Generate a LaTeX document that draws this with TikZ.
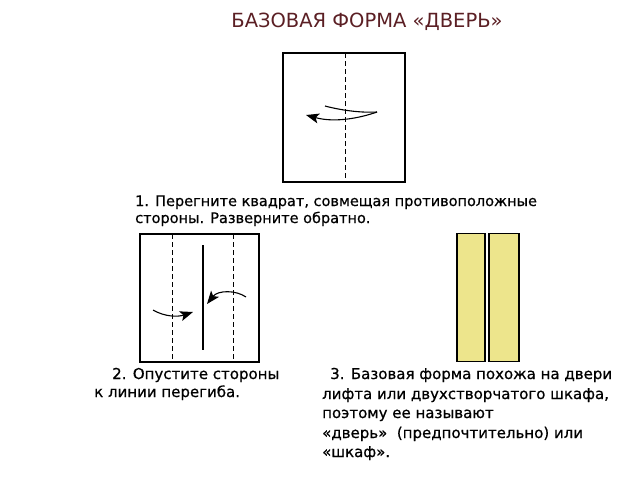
\documentclass[tikz,border=0pt]{standalone}
\usepackage{fontspec}
\setmainfont{DejaVu Sans}
\newfontfamily\bodyfont[FakeBold=0.6]{DejaVu Sans}
\usetikzlibrary{arrows.meta}
\definecolor{titlered}{HTML}{5B1F24}
\definecolor{dooryellow}{HTML}{EDE58C}
\begin{document}
\begin{tikzpicture}[x=1pt,y=-1pt,
  paper/.style={draw=black,line width=2.4pt,fill=white},
  fold/.style={draw=black,line width=1pt,dash pattern=on 5pt off 3pt},
  crease/.style={draw=black,line width=2.4pt},
  turn/.style={draw=black,line width=1.1pt},
  turntip/.style={-{Stealth[length=13pt,width=10pt,inset=3pt]}},
  body/.style={anchor=base west,inner sep=0pt,font=\bodyfont\fontsize{14.5}{16}\selectfont},
  bodyb/.style={anchor=base west,inner sep=0pt,font=\bodyfont\fontsize{15}{16}\selectfont},
  door/.style={draw=black,line width=1.6pt,fill=dooryellow}]
\useasboundingbox (0,0) rectangle (640,480);
% title
\node[anchor=base,inner sep=0pt,text=titlered,font=\fontsize{19.5}{22}\selectfont] (title) at (367,27) {БАЗОВАЯ ФОРМА «ДВЕРЬ»};
% step 1
\node[paper,minimum width=122pt,minimum height=129pt,inner sep=0pt] (sq1) at (344,117.5) {};
\coordinate (d1t) at (345,53);
\coordinate (d1b) at (345,182);
\draw[fold] (d1t) -- (d1b);
\coordinate (a1s) at (325,106);
\coordinate (a1m) at (377,112);
\coordinate (a1e) at (306,115);
\draw[turn] (a1s) .. controls (340,110) and (360,113) .. (a1m);
\draw[turn,turntip] (a1m) .. controls (360,118) and (335,123) .. (a1e);
\node[body] (t1a) at (135,206) {1. Перегните квадрат, совмещая противоположные};
\node[body] (t1b) at (135,223) {стороны. Разверните обратно.};
% step 2
\node[paper,minimum width=119pt,minimum height=128pt,inner sep=0pt] (sq2) at (199.5,298) {};
\coordinate (d2at) at (172,234);
\coordinate (d2ab) at (172,362);
\coordinate (d2bt) at (233,234);
\coordinate (d2bb) at (233,362);
\draw[fold] (d2at) -- (d2ab);
\draw[fold] (d2bt) -- (d2bb);
\coordinate (c2t) at (203,245);
\coordinate (c2b) at (203,350);
\draw[crease] (c2t) -- (c2b);
\coordinate (a2s) at (153,310);
\coordinate (a2e) at (193,312);
\draw[turn,turntip] (a2s) .. controls (165,317) and (178,317) .. (a2e);
\coordinate (a3s) at (246,297);
\coordinate (a3e) at (207,304);
\draw[turn,turntip] (a3s) .. controls (236,290) and (218,290) .. (a3e);
\node[bodyb] (t2a) at (112,379) {2. Опустите стороны};
\node[bodyb] (t2b) at (94,397) {к линии перегиба.};
% step 3
\node[door,minimum width=28pt,minimum height=128pt,inner sep=0pt] (dl) at (471,297.5) {};
\node[door,minimum width=30pt,minimum height=128pt,inner sep=0pt] (dr) at (504,297.5) {};
\node[bodyb] (t3a) at (330,379) {3. Базовая форма похожа на двери};
\node[bodyb] (t3b) at (322,399) {лифта или двухстворчатого шкафа,};
\node[bodyb] (t3c) at (322,418) {поэтому ее называют};
\node[bodyb] (t3d) at (322,438) {«дверь»\ \ (предпочтительно) или};
\node[bodyb] (t3e) at (322,457) {«шкаф».};
\end{tikzpicture}
\end{document}
